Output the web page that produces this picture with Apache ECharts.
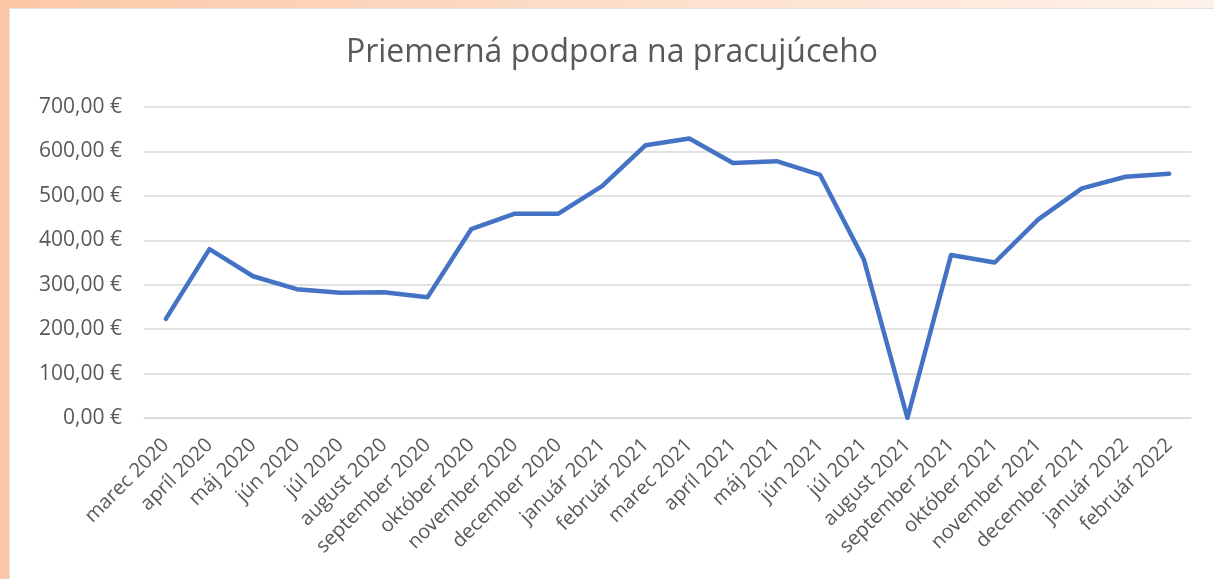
<!DOCTYPE html>
<html>
<head>
<meta charset="utf-8">
<script src="https://cdn.jsdelivr.net/npm/echarts@6/dist/echarts.min.js"></script>
<style>
  html, body { margin: 0; padding: 0; width: 1214px; height: 579px; overflow: hidden;
    background: linear-gradient(90deg, #fbc7a6 0%, #fdd9c2 40%, #fff2ea 100%); }
  #chart { position: absolute; left: 9px; top: 8px; width: 1205px; height: 571px; background: #ffffff;
    border-top: 1px solid #e3e3e3; border-left: 1px solid #e3e3e3; box-sizing: border-box; }
</style>
</head>
<body>
<div id="chart"></div>
<script>
const title = 'Priemerná podpora na pracujúceho';
const categories = ['marec 2020', 'apríl 2020', 'máj 2020', 'jún 2020', 'júl 2020', 'august 2020',
  'september 2020', 'október 2020', 'november 2020', 'december 2020', 'január 2021', 'február 2021',
  'marec 2021', 'apríl 2021', 'máj 2021', 'jún 2021', 'júl 2021', 'august 2021', 'september 2021',
  'október 2021', 'november 2021', 'december 2021', 'január 2022', 'február 2022'];
const values = [223, 380, 319, 290, 282, 283, 272, 425, 460, 460, 522, 614,
  629, 574, 578, 547, 357, 0, 367, 350, 447, 517, 543, 550];
const yTicks = [0, 100, 200, 300, 400, 500, 600, 700];

const chart = echarts.init(document.getElementById('chart'));
const font = '"Open Sans", "DejaVu Sans", sans-serif';
chart.setOption({
  backgroundColor: '#ffffff',
  animation: false,
  title: {
    text: title,
    left: 'center',
    top: 23,
    textStyle: { fontFamily: font, fontSize: 32, fontWeight: 'normal', color: '#595959' }
  },
  grid: { left: 134, right: 23, top: 98, bottom: 161, containLabel: false },
  xAxis: {
    type: 'category',
    data: categories,
    boundaryGap: true,
    axisLine: { show: true, lineStyle: { color: '#d9d9d9', width: 1.5 } },
    axisTick: { show: false },
    axisLabel: { rotate: 45, interval: 0, margin: 24, color: '#595959', fontSize: 20, fontFamily: font }
  },
  yAxis: {
    type: 'value',
    min: yTicks[0],
    max: yTicks[yTicks.length - 1],
    interval: 100,
    axisLine: { show: false },
    axisTick: { show: false },
    splitLine: { lineStyle: { color: '#d9d9d9', width: 1.5 } },
    axisLabel: {
      margin: 22, color: '#595959', fontSize: 21, fontFamily: font,
      formatter: v => v.toFixed(2).replace('.', ',') + ' €'
    }
  },
  series: [{
    type: 'line',
    data: values,
    showSymbol: false,
    symbol: 'none',
    lineStyle: { color: '#4472C4', width: 4.5, join: 'round', cap: 'round' },
    itemStyle: { color: '#4472C4' }
  }]
});
</script>
</body>
</html>
